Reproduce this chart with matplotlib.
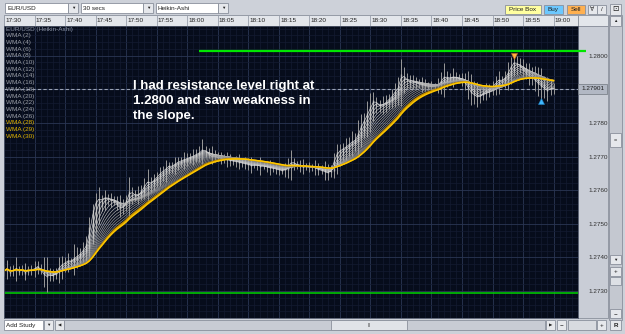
import numpy as np
import matplotlib
matplotlib.use('Agg')
import matplotlib.pyplot as plt
from matplotlib.patches import Rectangle

# EUR/USD, 30 sec Heikin-Ashi bars from 17:30 to 19:00
close = [1.27360, 1.27368, 1.27355, 1.27362, 1.27370, 1.27358, 1.27364, 1.27352, 1.27366, 1.27362,
         1.27368, 1.27375, 1.27360, 1.27348, 1.27342, 1.27350, 1.27345, 1.27358, 1.27372, 1.27380,
         1.27385, 1.27392, 1.27388, 1.27400, 1.27405, 1.27412, 1.27425, 1.27440, 1.27490, 1.27540,
         1.27568, 1.27575, 1.27570, 1.27580, 1.27575, 1.27570, 1.27565, 1.27555, 1.27545, 1.27550,
         1.27570, 1.27598, 1.27590, 1.27582, 1.27586, 1.27600, 1.27615, 1.27628, 1.27618, 1.27632,
         1.27640, 1.27650, 1.27658, 1.27665, 1.27674, 1.27670, 1.27680, 1.27685, 1.27688, 1.27692,
         1.27695, 1.27700, 1.27702, 1.27708, 1.27712, 1.27722, 1.27715, 1.27705, 1.27698, 1.27700,
         1.27696, 1.27694, 1.27692, 1.27690, 1.27688, 1.27686, 1.27685, 1.27682, 1.27680, 1.27678,
         1.27676, 1.27672, 1.27675, 1.27674, 1.27670, 1.27672, 1.27668, 1.27666, 1.27665, 1.27662,
         1.27660, 1.27658, 1.27662, 1.27672, 1.27685, 1.27680, 1.27672, 1.27670, 1.27668, 1.27670,
         1.27668, 1.27668, 1.27665, 1.27660, 1.27658, 1.27655, 1.27650, 1.27660, 1.27690, 1.27712,
         1.27718, 1.27724, 1.27730, 1.27738, 1.27745, 1.27750, 1.27770, 1.27795, 1.27810, 1.27830,
         1.27850, 1.27868, 1.27858, 1.27848, 1.27855, 1.27862, 1.27872, 1.27880, 1.27895, 1.27905,
         1.27945, 1.27935, 1.27925, 1.27920, 1.27922, 1.27918, 1.27915, 1.27912, 1.27910, 1.27908,
         1.27908, 1.27910, 1.27912, 1.27925, 1.27938, 1.27935, 1.27932, 1.27938, 1.27935, 1.27930,
         1.27925, 1.27918, 1.27900, 1.27888, 1.27882, 1.27876, 1.27880, 1.27892, 1.27898, 1.27902,
         1.27910, 1.27920, 1.27930, 1.27925, 1.27935, 1.27950, 1.27970, 1.27982, 1.27975, 1.27968,
         1.27955, 1.27945, 1.27938, 1.27932, 1.27925, 1.27915, 1.27908, 1.27900, 1.27895, 1.27904, 1.27901]
# wick length beyond the body, in pips
wick = [1.5, 2.5, 1.0, 1.5, 3.0, 1.0, 1.5, 2.0, 1.0, 1.5,
        2.0, 1.5, 1.0, 3.5, 4.5, 2.0, 1.5, 1.0, 3.0, 2.5,
        1.5, 2.0, 1.0, 4.0, 2.5, 1.5, 2.0, 2.5, 3.0, 2.0,
        2.5, 3.5, 1.5, 2.0, 1.5, 2.0, 1.0, 1.5, 2.5, 2.0,
        1.5, 4.0, 2.0, 1.5, 2.5, 1.5, 2.0, 3.5, 2.0, 1.5,
        1.5, 2.0, 1.5, 2.5, 1.0, 1.5, 2.0, 1.5, 1.0, 2.0,
        1.5, 1.0, 2.0, 1.5, 2.0, 3.0, 1.5, 1.0, 2.0, 1.5,
        1.0, 1.5, 1.0, 2.0, 1.5, 1.0, 1.5, 2.0, 1.0, 1.5,
        1.5, 2.0, 1.0, 1.5, 2.5, 1.0, 1.5, 2.0, 1.0, 1.5,
        1.5, 1.0, 2.0, 2.5, 3.5, 1.5, 1.0, 1.5, 2.0, 1.0,
        1.5, 1.0, 2.0, 1.5, 1.0, 2.5, 2.0, 1.5, 2.0, 2.5,
        2.0, 1.5, 2.5, 2.0, 3.0, 2.0, 4.0, 3.0, 2.0, 3.5,
        4.0, 2.5, 2.0, 1.5, 2.5, 2.0, 1.5, 2.0, 2.5, 3.0,
        4.5, 3.0, 2.0, 1.5, 2.0, 1.5, 1.0, 2.0, 1.5, 1.0,
        1.5, 1.0, 2.0, 2.5, 4.0, 2.0, 1.5, 2.5, 1.5, 1.0,
        1.5, 2.0, 3.0, 3.5, 2.5, 3.0, 2.0, 1.5, 2.0, 1.5,
        1.5, 2.0, 2.5, 1.5, 2.0, 3.0, 2.5, 1.5, 2.5, 2.0,
        2.0, 1.5, 2.5, 2.0, 3.0, 3.5, 4.0, 2.5, 3.0, 2.0, 1.5]

wma_periods = [2, 4, 6, 8, 10, 12, 14, 16, 18, 20, 22, 24, 26, 28, 29, 30]
time_labels = ['17:30', '17:35', '17:40', '17:45', '17:50', '17:55', '18:00', '18:05', '18:10', '18:15',
               '18:20', '18:25', '18:30', '18:35', '18:40', '18:45', '18:50', '18:55', '19:00']
price_ticks = [1.2730, 1.2740, 1.2750, 1.2760, 1.2770, 1.2780, 1.2790, 1.2800]
last_price = 1.27901
resistance = 1.28015
support = 1.27294
sell_bar = 167
buy_bar = 176

W, H = 625, 334
UI = 'Liberation Sans'


def wma(x, n):
    out = np.empty(len(x))
    for i in range(len(x)):
        seg = x[max(0, i - n + 1):i + 1]
        w = np.arange(1, len(seg) + 1)
        out[i] = (seg * w).sum() / w.sum()
    return out


c = np.array(close)
t = np.arange(len(c)) * 0.5  # minutes after 17:30
ha_open = np.empty(len(c))
ha_open[0] = c[0]
for i in range(1, len(c)):
    ha_open[i] = (ha_open[i - 1] + c[i - 1]) / 2
w = np.array(wick) * 0.0001
hi = np.maximum(ha_open, c) + w
lo = np.minimum(ha_open, c) - w

fig = plt.figure(figsize=(W / 100, H / 100), dpi=100, facecolor='#cdd1d9')

# window chrome, drawn in pixel units
ui = fig.add_axes([0, 0, 1, 1], zorder=0)
ui.set_xlim(0, W)
ui.set_ylim(H, 0)
ui.axis('off')


def box(x, y, bw, bh, fc='#e6e8ec', label=None, size=4.6, color='#202020', ec='#8a909c', **kw):
    ui.add_patch(Rectangle((x, y), bw, bh, fc=fc, ec=ec, lw=0.6))
    if label:
        ui.text(x + bw / 2, y + bh / 2 + 0.3, label, ha='center', va='center', fontsize=size,
                color=color, family=[UI, 'DejaVu Sans'], **kw)


def ltext(x, y, s, size=4.6, color='#202020'):
    ui.text(x, y, s, ha='left', va='center', fontsize=size, color=color, family=UI)


box(5, 3, 63, 10, 'white')
ltext(7, 8.3, 'EUR/USD')
box(68, 3, 10, 10, label='▼', size=3.2)
box(81, 3, 62, 10, 'white')
ltext(83, 8.3, '30 secs')
box(143, 3, 10, 10, label='▼', size=3.2)
box(156, 3, 62, 10, 'white')
ltext(158, 8.3, 'Heikin-Ashi')
box(218, 3, 10, 10, label='▼', size=3.2)
box(505, 5, 36, 9, '#ffffa0', label='Price Box')
box(544, 5, 19, 9, '#6cc8ff', label='Buy')
box(567, 5, 18, 9, '#ffb050', label='Sell')
box(588, 5, 9, 9, label='∀', size=4.5)
box(597, 5, 9, 9, label='/', size=4.5)
box(610, 4, 11, 11, label='⊡', size=5.5)

box(4, 15, 574, 11, '#e3e6eb')
box(578, 15, 30, 11, '#e3e6eb')
box(609, 15, 13, 305, '#c4c8d0')
box(610, 16, 11, 10, label='▲', size=3.2)
box(578, 26, 30, 292, '#c9cdd6')
box(610, 133, 11, 14, label='=', size=4)
box(610, 255, 11, 9, label='▼', size=3.2)
box(610, 267, 11, 9, label='+', size=4.5)
box(610, 277, 11, 8, '#dde0e5')
box(610, 309, 11, 9, label='−', size=4.5)

box(4, 320, 39, 10, 'white')
ltext(6, 325.3, 'Add Study')
box(44, 320, 9, 10, label='▼', size=3.2)
box(55, 320, 9, 10, label='◀', size=3.2)
box(64, 320, 481, 10, '#c8ccd4')
box(331, 320, 76, 10, '#e0e3e8', label='|||', size=3)
box(546, 320, 9, 10, label='▶', size=3.2)
box(557, 320, 9, 10, label='−', size=4.5)
box(568, 320, 28, 10, '#d8dbe0')
box(597, 320, 9, 10, label='+', size=4.5)
box(610, 320, 11, 10, label='R', size=4.5, fontweight='bold')

# price chart
ax = fig.add_axes([4 / W, 1 - 318 / H, 574 / W, 292 / H], zorder=1)
ax.set_facecolor('#060c1b')
ax.set_xlim(1 / 6.12, 575 / 6.12)
ax.set_ylim(1.27229, 1.28088)

ax.set_xticks(np.arange(len(time_labels)) * 5)
ax.set_xticks(np.arange(0, 95, 1), minor=True)
ax.set_yticks(price_ticks)
ax.set_yticks(np.arange(1.2722, 1.2810, 0.0002), minor=True)
ax.set_yticklabels(['' if p == 1.2790 else f'{p:.4f}' for p in price_ticks])
ax.grid(which='major', color='#2a3654', lw=0.6)
ax.grid(which='minor', color='#141b31', lw=0.5)
ax.set_axisbelow(True)
ax.tick_params(axis='x', which='major', top=True, bottom=False, labelbottom=False,
               direction='out', length=8, width=0.6, color='#9aa0ac')
ax.tick_params(axis='x', which='minor', top=False, bottom=False)
ax.tick_params(axis='y', which='both', left=False, right=False, labelleft=False, labelright=True,
               pad=4, labelsize=4.6, labelcolor='#303030')
for lbl in ax.get_yticklabels():
    lbl.set_family(UI)
for s in ax.spines.values():
    s.set_color('#50586a')
    s.set_linewidth(0.6)

for k, lab in enumerate(time_labels):
    ax.text(k * 5 + 0.2, 1.019, lab, transform=ax.get_xaxis_transform(), ha='left', va='center',
            fontsize=4.6, color='#202020', family=UI, clip_on=False)

ax.axhline(support, color='#00d400', lw=1.1)
ax.hlines(resistance, 32.0, 95.3, color='#00e600', lw=1.6, clip_on=False, zorder=5)
ax.axhline(last_price, color='#9aa2b4', lw=0.8, ls=(0, (3, 2)))

# Heikin-Ashi bars
ax.vlines(t, lo, hi, color='#9a9a9a', lw=0.7)
ax.vlines(t, np.minimum(ha_open, c), np.maximum(ha_open, c), color='#b8b8b8', lw=1.0)

grays = np.linspace(0.88, 0.55, 13)
yellows = ['#b88600', '#dca400', '#ffc800']
for k, n in enumerate(wma_periods):
    if n <= 26:
        ax.plot(t, wma(c, n), color=str(grays[k]), lw=0.45)
    else:
        ax.plot(t, wma(c, n), color=yellows[wma_periods.index(n) - 13], lw=1.0)

ax.plot(t[sell_bar], hi[sell_bar] + 0.00003, marker='v', color='#ffb040', ms=4.5, mec='#c07020', mew=0.4)
ax.plot(t[buy_bar], lo[buy_bar] - 0.00002, marker='^', color='#40b8ff', ms=4.5, mec='#2080c0', mew=0.4)

ax.add_patch(Rectangle((1.0, last_price - 0.00015), 29 / 574, 0.0003, transform=ax.get_yaxis_transform(),
                       fc='#b2b8c4', ec='#70767f', lw=0.5, clip_on=False, zorder=6))
ax.text(1.0 + 3 / 574, last_price, f'{last_price:.5f}', transform=ax.get_yaxis_transform(), ha='left',
        va='center', fontsize=4.6, color='#202020', family=UI, clip_on=False, zorder=7)

# study legend
legend = ['EUR/USD (Heikin-Ashi)'] + [f'WMA ({n})' for n in wma_periods]
for k, s in enumerate(legend):
    col = '#8a92a4' if k == 0 else ('#e0b400' if wma_periods[k - 1] >= 28 else '#9a9ea6')
    fig.text(6 / W, 1 - (29 + 6.7 * k) / H, s, ha='left', va='center', fontsize=4.6, color=col,
             family=UI)

fig.text(133 / W, 1 - 101 / H, 'I had resistance level right at\n1.2800 and saw weakness in\nthe slope.',
         ha='left', va='center', fontsize=9.5, color='white', fontweight='bold', family=UI,
         linespacing=1.3)

fig.savefig('out.png', dpi=100, facecolor=fig.get_facecolor())
